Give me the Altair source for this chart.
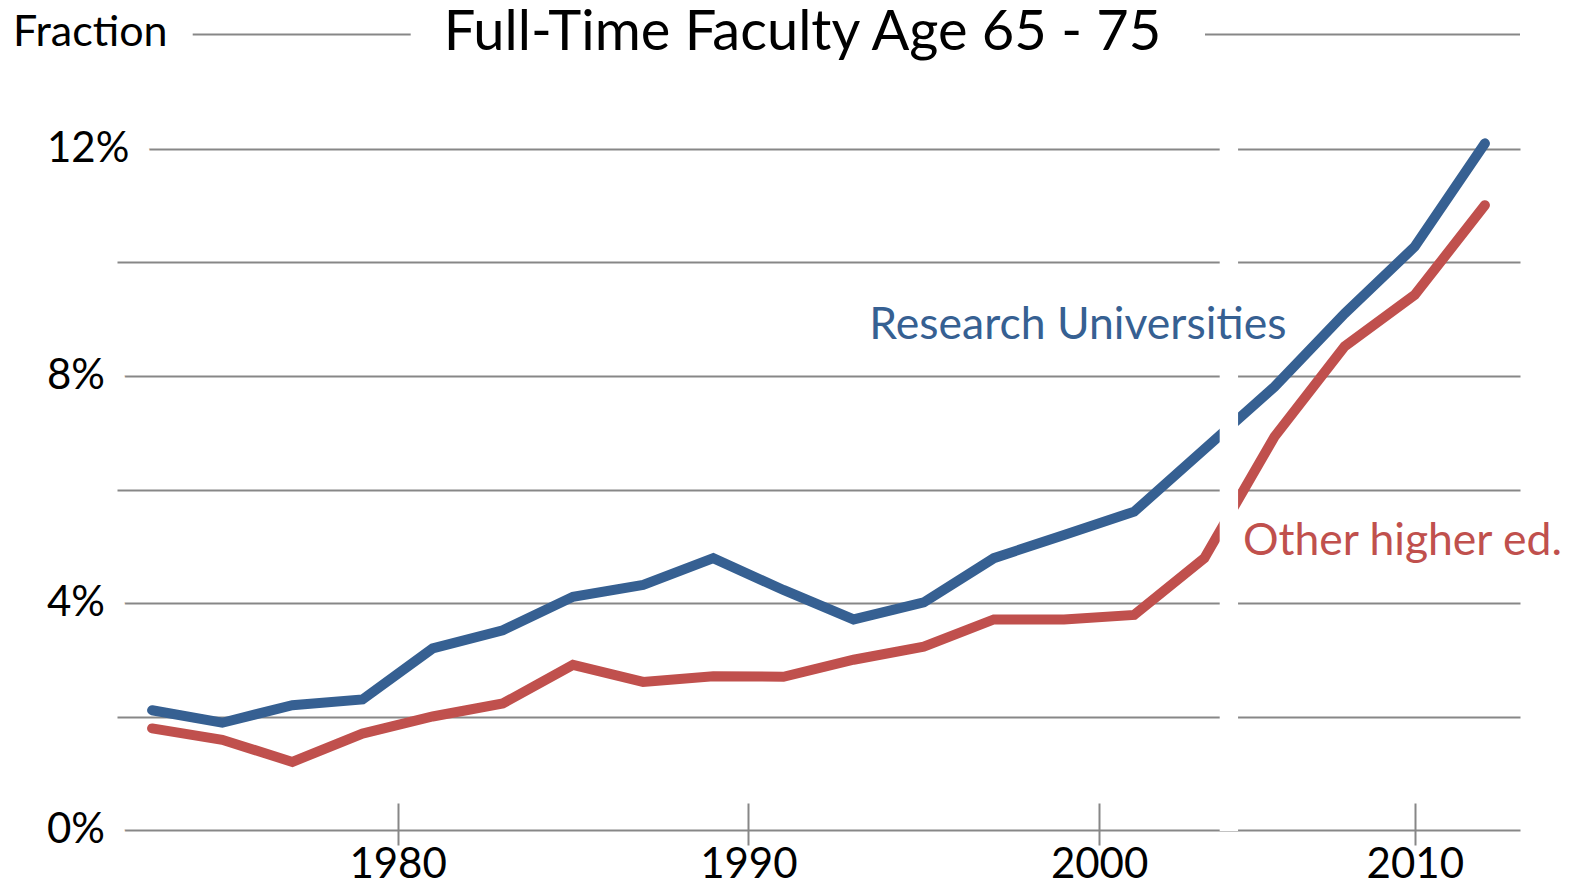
import altair as alt
import pandas as pd

# ---- data ----
years = [1973, 1975, 1977, 1979, 1981, 1983, 1985, 1987, 1989, 1991,
         1993, 1995, 1997, 1999, 2001, 2003, 2006, 2008, 2010, 2013]
research = [2.11, 1.89, 2.20, 2.30, 3.20, 3.52, 4.11, 4.32, 4.79, 4.23,
            3.71, 4.01, 4.79, 5.20, 5.61, 6.71, 7.81, 9.10, 10.28, 12.10]
other = [1.79, 1.59, 1.20, 1.70, 2.00, 2.23, 2.91, 2.61, 2.71, 2.70,
         3.00, 3.23, 3.71, 3.71, 3.79, 4.79, 6.93, 8.52, 9.43, 11.01]
series_names = ["Research Universities", "Other higher ed."]
label_x = [1993.45, 2004.65]
label_y = [8.65, 4.85]
break_years = [2003.7, 2004.4]
x_ticks = [1980, 1990, 2000, 2010]
y_grid = [0, 2, 4, 6, 8, 10, 12]
y_labels = [0, 4, 8, 12]
title_text = "Full-Time Faculty Age 65 - 75"
ylabel_text = "Fraction"

# ---- style ----
BLUE = "#366092"
RED = "#C0504D"
GRAY = "#878787"
FONT = "Lato"
W, H = 1403, 681

n = len(years)
step = W / n
x_domain = [years[0] - 1] + years + [years[-1] + 1.5]
x_range = [0] + [step * (i + 0.5) for i in range(n)] + [W]
xscale = alt.Scale(domain=x_domain, range=x_range, nice=False, zero=False)
yscale = alt.Scale(domain=[0, 12], nice=False, zero=True)

x_axis = alt.Axis(values=x_ticks, format="d", domain=False, grid=False,
                  tickSize=42, tickColor=GRAY, tickWidth=2, offset=-27,
                  labelFont=FONT, labelFontSize=42, labelColor="black",
                  labelPadding=32, labelBaseline="alphabetic",
                  labelFlush=False, labelOverlap=False, title=None)
y_axis = alt.Axis(values=y_grid, labels=False, ticks=False, domain=False,
                  grid=True, gridColor=GRAY, gridWidth=2, title=None)

df = pd.DataFrame({
    "year": years * 2,
    "value": research + other,
    "series": [series_names[0]] * n + [series_names[1]] * n,
})
color_scale = alt.Scale(domain=series_names, range=[BLUE, RED])

lines = alt.Chart(df).mark_line(strokeWidth=10, strokeCap="round").encode(
    x=alt.X("year:Q", scale=xscale, axis=x_axis),
    y=alt.Y("value:Q", scale=yscale, axis=y_axis),
    color=alt.Color("series:N", scale=color_scale, legend=None),
)

brk = alt.Chart(pd.DataFrame({"b0": [break_years[0]], "b1": [break_years[1]]})).mark_rect(
    fill="white", stroke="white", strokeWidth=2
).encode(
    x=alt.X("b0:Q", scale=xscale, axis=x_axis),
    x2="b1:Q",
)

df_lab = pd.DataFrame({"lx": label_x, "ly": label_y, "t": series_names})
labels = alt.Chart(df_lab).mark_text(align="left", baseline="alphabetic", font=FONT,
                                     fontSize=44.5).encode(
    x=alt.X("lx:Q", scale=xscale, axis=x_axis),
    y=alt.Y("ly:Q", scale=yscale, axis=y_axis),
    text="t:N",
    color=alt.Color("t:N", scale=color_scale, legend=None),
)

df_y = pd.DataFrame({"v": y_labels, "t": [f"{v}%" for v in y_labels]})
ylab_halo = alt.Chart(df_y).mark_text(align="left", baseline="middle", font=FONT,
                                      fontSize=42, fill="white", stroke="white",
                                      strokeWidth=44, strokeJoin="round").encode(
    x=alt.value(-70), y=alt.Y("v:Q", scale=yscale, axis=y_axis), text="t:N")
ylab = alt.Chart(df_y).mark_text(align="left", baseline="middle", font=FONT,
                                 fontSize=42, color="black").encode(
    x=alt.value(-70), y=alt.Y("v:Q", scale=yscale, axis=y_axis), text="t:N")

title = alt.Chart(pd.DataFrame({"t": [title_text]})).mark_text(
    align="center", baseline="alphabetic", font=FONT, fontSize=56, color="black"
).encode(x=alt.value(685.5), y=alt.value(-99), text="t:N")

ylabel = alt.Chart(pd.DataFrame({"t": [ylabel_text]})).mark_text(
    align="left", baseline="alphabetic", font=FONT, fontSize=43, color="black"
).encode(x=alt.value(-104), y=alt.value(-103), text="t:N")

rule_l = alt.Chart(pd.DataFrame({"a": [0]})).mark_rule(color=GRAY, strokeWidth=2).encode(
    x=alt.value(75.7), x2=alt.value(293.7), y=alt.value(-114.5))
rule_r = alt.Chart(pd.DataFrame({"a": [0]})).mark_rule(color=GRAY, strokeWidth=2).encode(
    x=alt.value(1088), x2=alt.value(1403), y=alt.value(-114.5))

chart = alt.layer(lines, brk, labels, ylab_halo, ylab, title, ylabel, rule_l, rule_r).properties(
    width=W, height=H,
    autosize=alt.AutoSizeParams(type="none"),
    padding={"left": 109, "top": 141, "right": 57, "bottom": 58},
).configure_view(stroke=None)

chart.save("out.html", embed_options={"renderer": "svg", "actions": False})
